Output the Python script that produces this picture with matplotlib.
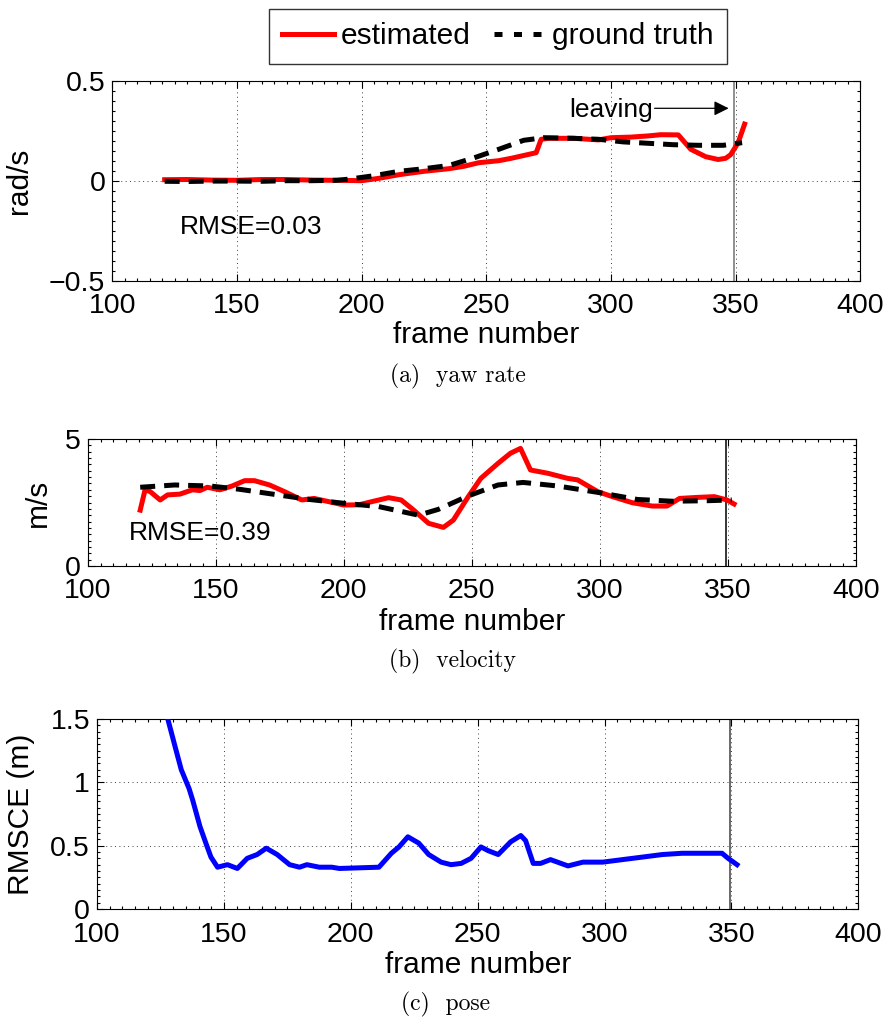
import matplotlib
matplotlib.use('Agg')
import matplotlib.pyplot as plt
from matplotlib.ticker import MultipleLocator
from matplotlib.lines import Line2D

plt.rcParams['font.family'] = ['Liberation Sans', 'DejaVu Sans']

# (a) yaw rate
yaw_est_x = [121, 130, 140, 150, 160, 170, 180, 190, 200, 207, 215, 225, 235, 241, 247,
             255, 260, 265, 270, 272, 275, 285, 295, 300, 308, 315, 320, 327, 332, 338,
             343, 346, 348, 351, 353.6]
yaw_est_y = [0.005, 0.006, 0.003, 0.002, 0.006, 0.006, 0.003, 0.002, 0.0, 0.012, 0.03, 0.047,
             0.06, 0.072, 0.09, 0.10, 0.112, 0.126, 0.14, 0.207, 0.212, 0.212, 0.204, 0.215,
             0.218, 0.224, 0.23, 0.229, 0.157, 0.12, 0.106, 0.112, 0.13, 0.19, 0.283]
yaw_gt_x = [121, 130, 140, 150, 160, 170, 180, 190, 195, 205, 215, 225, 235, 245, 255,
            265, 273, 285, 295, 305, 315, 325, 335, 345, 352.6]
yaw_gt_y = [-0.003, -0.004, -0.002, -0.002, -0.003, 0.0, 0.0, 0.002, 0.008, 0.025, 0.047,
            0.06, 0.076, 0.114, 0.157, 0.202, 0.215, 0.212, 0.207, 0.194, 0.187, 0.18,
            0.177, 0.177, 0.19]

# (b) velocity
vel_est_x = [120.5, 122.4, 124.4, 128.3, 131.2, 136, 140.9, 143.8, 146.7, 151.6, 156.4,
             161.3, 165.1, 171, 176.8, 183.6, 188.4, 194.3, 200, 205.9, 210.8, 217.5,
             222.4, 227.3, 233.1, 238.9, 242.8, 248.6, 253.5, 260.2, 265.1, 269, 272.9,
             279.7, 287.4, 291.3, 299.1, 304.9, 312.7, 320.4, 326.2, 331.1, 337.9, 344.7,
             349.6, 352.4]
vel_est_y = [2.2, 3.0, 2.93, 2.6, 2.8, 2.83, 3.0, 2.97, 3.1, 3.0, 3.15, 3.36, 3.36, 3.19,
             2.93, 2.6, 2.66, 2.53, 2.4, 2.41, 2.53, 2.69, 2.6, 2.2, 1.68, 1.52, 1.81, 2.73,
             3.45, 4.04, 4.44, 4.63, 3.78, 3.65, 3.45, 3.39, 2.93, 2.73, 2.49, 2.36, 2.36,
             2.66, 2.70, 2.73, 2.6, 2.44]
vel_gt_x = [120.5, 134, 147.7, 159.3, 172.9, 186.5, 200, 213.6, 229.2, 236.9, 248.6,
            260.2, 270, 283.5, 299.1, 314.6, 328.2, 341.8, 351.5]
vel_gt_y = [3.1, 3.19, 3.15, 3.02, 2.82, 2.62, 2.47, 2.34, 2.0, 2.23, 2.76, 3.19, 3.29,
            3.15, 2.9, 2.62, 2.55, 2.57, 2.6]

# (c) pose
pose_x = [127.0, 127.9, 130.8, 133.2, 136.3, 137.7, 140.6, 142.9, 144.9, 147.5, 151.4,
          155.3, 159.2, 163.1, 166.7, 171, 175.9, 179.8, 182.7, 187.6, 192.5, 195.5,
          211.1, 216, 219, 222.5, 226.8, 230.7, 235.6, 239.5, 243.5, 247.4, 251.3, 254.2,
          258.1, 263, 267, 268.9, 271.9, 274.8, 278.7, 285.6, 291.5, 299.3, 307.1, 315,
          322.8, 330.6, 338.5, 346.3, 348.7, 352.2]
pose_y = [1.55, 1.5, 1.28, 1.10, 0.95, 0.86, 0.65, 0.52, 0.41, 0.33, 0.35, 0.32, 0.40,
          0.43, 0.48, 0.43, 0.35, 0.33, 0.35, 0.33, 0.33, 0.32, 0.33, 0.44, 0.49, 0.57,
          0.52, 0.43, 0.37, 0.35, 0.36, 0.40, 0.49, 0.46, 0.43, 0.53, 0.58, 0.54, 0.36,
          0.36, 0.39, 0.34, 0.37, 0.37, 0.39, 0.41, 0.43, 0.44, 0.44, 0.44, 0.40, 0.35]

leave_frame = 349.3
xticks = [100, 150, 200, 250, 300, 350, 400]

W, H = 888.0, 1027.0
fig = plt.figure(figsize=(W / 100, H / 100), dpi=100)


def px_axes(left, top, right, bottom):
    return fig.add_axes([left / W, 1 - bottom / H, (right - left) / W, (bottom - top) / H])


ax1 = px_axes(112.3, 80.7, 860.3, 280.7)
ax2 = px_axes(87.7, 439, 856, 566)
ax3 = px_axes(97, 719, 858.3, 909)

FS = 20.5
dash = (3, 1.8)


def style(ax, ylim, yticks, ylabels, yminor, ylabel, ylab_x, xlab_y, vcol):
    ax.set_xlim(100, 400)
    ax.set_ylim(*ylim)
    ax.set_xticks(xticks)
    ax.set_xticklabels([str(t) for t in xticks])
    ax.set_yticks(yticks)
    ax.set_yticklabels(ylabels)
    ax.xaxis.set_minor_locator(MultipleLocator(5))
    ax.yaxis.set_minor_locator(MultipleLocator(yminor))
    ax.tick_params(which='both', direction='in', top=True, right=True, width=0.8,
                   labelsize=FS)
    ax.tick_params(axis='x', pad=9)
    ax.tick_params(axis='y', pad=5)
    ax.tick_params(which='major', length=5)
    ax.tick_params(which='minor', length=2.5)
    ax.grid(True, which='major', linestyle=(0, (1, 3.5)), linewidth=0.7, color='0.25')
    for s in ax.spines.values():
        s.set_linewidth(0.8)
    ax.set_xlabel('frame number', fontsize=21.5)
    ax.set_ylabel(ylabel, fontsize=21.5)
    ax.xaxis.set_label_coords(0.5, xlab_y)
    ax.yaxis.set_label_coords(ylab_x, 0.5)
    ax.axvline(leave_frame, color=vcol, linewidth=1.1, zorder=1.5)


style(ax1, (-0.5, 0.5), [-0.5, 0, 0.5], ['\u22120.5', '0', '0.5'], 0.05, 'rad/s',
      -0.106, -0.2, '0.45')
style(ax2, (0, 5), [0, 5], ['0', '5'], 0.25, 'm/s', -0.0465, -0.33, 'k')
style(ax3, (0, 1.5), [0, 0.5, 1, 1.5], ['0', '0.5', '1', '1.5'], 0.05, 'RMSCE (m)',
      -0.081, -0.22, '0.25')

ax1.plot(yaw_est_x, yaw_est_y, color='#ff0000', linewidth=3.6, zorder=3)
ax1.plot(yaw_gt_x, yaw_gt_y, color='k', linewidth=3.6, dashes=dash, zorder=4)
ax2.plot(vel_est_x, vel_est_y, color='#ff0000', linewidth=3.6, zorder=3)
ax2.plot(vel_gt_x, vel_gt_y, color='k', linewidth=3.6, dashes=dash, zorder=4)
ax3.plot(pose_x, pose_y, color='#0000ff', linewidth=3.6, zorder=3)

ax1.text(127, -0.234, 'RMSE=0.03', fontsize=19, va='center', ha='left')
ax2.text(116.2, 1.29, 'RMSE=0.39', fontsize=19, va='center', ha='left')

ax1.annotate('', xy=(347.2, 0.362), xytext=(317.5, 0.362),
             arrowprops=dict(arrowstyle='-|>', color='k', lw=0.9,
                             mutation_scale=22, shrinkA=0, shrinkB=0))
ax1.text(316.9, 0.354, 'leaving', fontsize=19, va='center', ha='right')

# legend
h_est = Line2D([], [], color='#ff0000', linewidth=3.6)
h_gt = Line2D([], [], color='k', linewidth=3.6, dashes=(1.6, 2.3))
leg = fig.legend([h_est, h_gt], ['estimated', 'ground truth'], ncol=2, loc='center',
                 bbox_to_anchor=(498 / W, 1 - 36.5 / H), fontsize=21.5, frameon=True,
                 fancybox=False, handlelength=1.75, handletextpad=0.2, columnspacing=0.8,
                 borderpad=0.45, borderaxespad=0)
leg.get_frame().set_edgecolor('k')
leg.get_frame().set_linewidth(1.0)

# captions
cap_font = ['cmr10', 'DejaVu Serif']
fig.text(458 / W, 1 - 376 / H, '(a)  yaw rate', fontsize=17, family=cap_font,
         ha='center', va='center')
fig.text(452 / W, 1 - 661 / H, '(b)  velocity', fontsize=17, family=cap_font,
         ha='center', va='center')
fig.text(445 / W, 1 - 1004 / H, '(c)  pose', fontsize=17, family=cap_font,
         ha='center', va='center')

fig.savefig('out.png', dpi=100)
